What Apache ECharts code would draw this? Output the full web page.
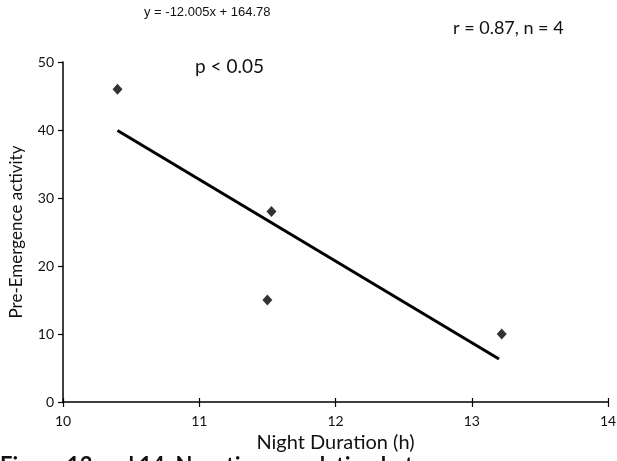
<!DOCTYPE html>
<html>
<head>
<meta charset="utf-8">
<script src="https://cdn.jsdelivr.net/npm/echarts@6/dist/echarts.min.js"></script>
<style>
  html, body { margin: 0; padding: 0; background: #fff; }
  #chart { width: 617px; height: 461px; }
</style>
</head>
<body>
<div id="chart"></div>
<script>
// Night duration (h) vs. pre-emergence activity
const nightDuration = [10.4, 11.53, 11.5, 13.22];
const preEmergence = [46, 28, 15, 10];

// Linear fit, as printed above the plot
const slope = -12.005;
const intercept = 164.78;
const fitRange = [10.4, 13.2];

const xTicks = [10, 11, 12, 13, 14];
const yTicks = [0, 10, 20, 30, 40, 50];

const FONT = 'Lato, "Open Sans", sans-serif';

const points = nightDuration.map((x, i) => [x, preEmergence[i]]);
const fitLine = fitRange.map(x => [x, slope * x + intercept]);

const chart = echarts.init(document.getElementById('chart'), null, { renderer: 'canvas' });

chart.setOption({
  animation: false,
  backgroundColor: '#ffffff',
  grid: { left: 63, right: 9, top: 62, bottom: 59, containLabel: false, outerBoundsMode: 'none' },
  xAxis: [{
    type: 'value',
    min: xTicks[0], max: xTicks[xTicks.length - 1], interval: 1,
    name: 'Night Duration (h)',
    nameLocation: 'middle',
    nameGap: 31,
    nameTextStyle: { fontFamily: FONT, fontSize: 20, color: '#111' },
    axisLine: { show: true, onZero: false, lineStyle: { color: '#000', width: 1.5 } },
    axisTick: { show: true, length: 5, lineStyle: { color: '#000', width: 1.2 } },
    axisLabel: { fontFamily: FONT, fontSize: 14, color: '#111', margin: 12 },
    splitLine: { show: false }
  }, {
    // inner half of the crossing tick marks
    type: 'value',
    position: 'bottom',
    min: xTicks[0], max: xTicks[xTicks.length - 1], interval: 1,
    axisLine: { show: false },
    axisTick: { show: true, inside: true, length: 4, lineStyle: { color: '#000', width: 1.2 } },
    axisLabel: { show: false },
    splitLine: { show: false }
  }],
  yAxis: {
    type: 'value',
    min: yTicks[0], max: yTicks[yTicks.length - 1], interval: 10,
    name: 'Pre-Emergence activity',
    nameLocation: 'middle',
    nameGap: 38,
    nameTextStyle: { fontFamily: FONT, fontSize: 17, color: '#111' },
    axisLine: { show: true, onZero: false, lineStyle: { color: '#000', width: 1.5 } },
    axisTick: { show: true, length: 5, lineStyle: { color: '#000', width: 1.2 } },
    axisLabel: { fontFamily: FONT, fontSize: 14, color: '#111', margin: 9 },
    splitLine: { show: false }
  },
  series: [{
    type: 'line',
    data: fitLine,
    symbol: 'none',
    lineStyle: { color: '#000', width: 3 },
    z: 2
  }, {
    type: 'scatter',
    data: points,
    symbol: 'diamond',
    symbolSize: [10, 11],
    itemStyle: { color: '#000' },
    z: 3
  }],
  graphic: [{
    type: 'text',
    left: 144, top: 6,
    style: { text: 'y = -12.005x + 164.78', font: '13px "Liberation Sans", Arial, sans-serif', fill: '#111' }
  }, {
    type: 'text',
    left: 453, top: 19,
    style: { text: 'r = 0.87, n = 4', font: '18px ' + FONT, fill: '#111' }
  }, {
    type: 'text',
    left: 195, top: 57,
    style: { text: 'p < 0.05', font: '19px ' + FONT, fill: '#111' }
  }, {
    type: 'text',
    left: 0, top: 455,
    style: { text: 'Figure 13 and 14. Negative correlation between', font: 'bold 22px ' + FONT, fill: '#111' }
  }]
});
</script>
</body>
</html>
